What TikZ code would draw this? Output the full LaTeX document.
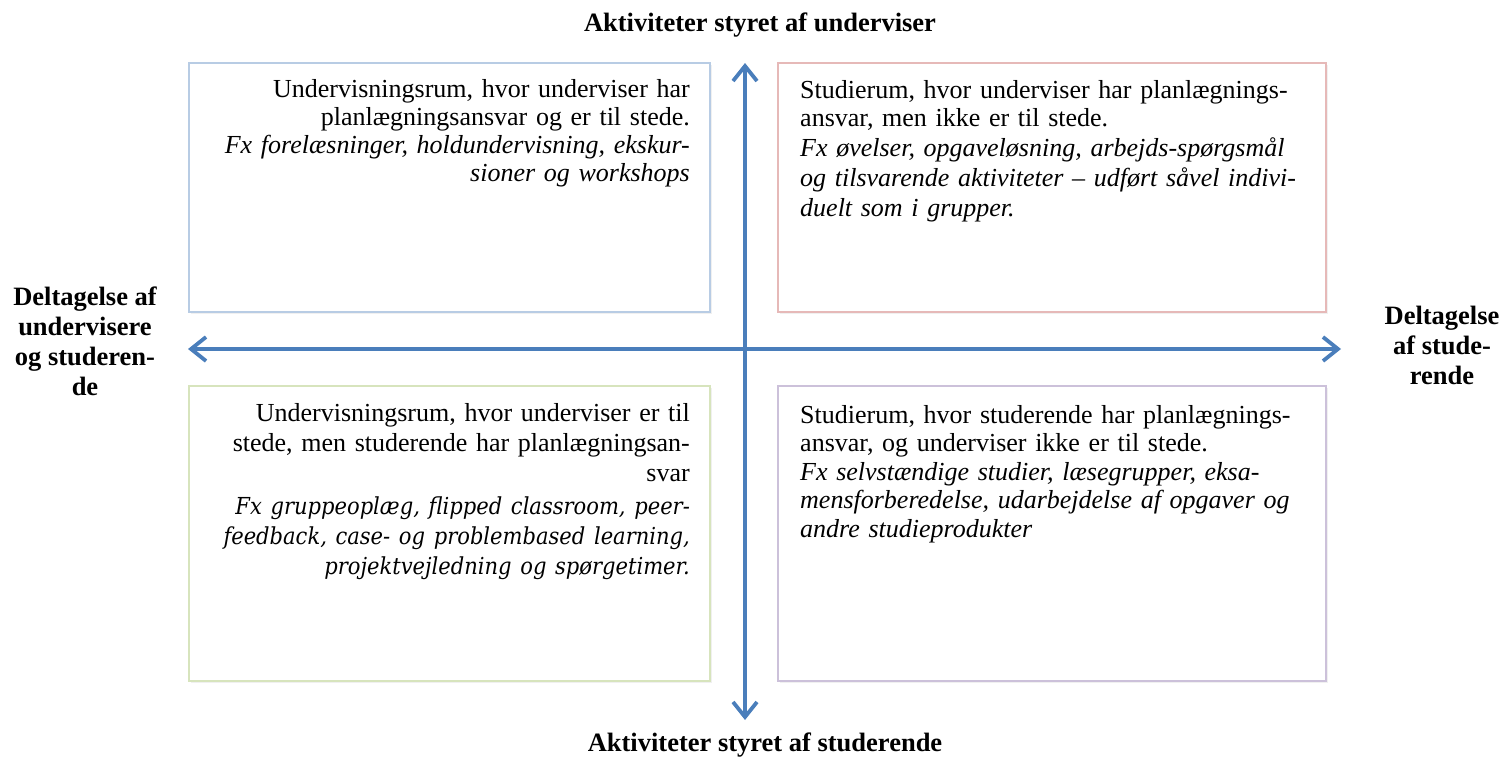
\documentclass[tikz,border=0pt]{standalone}
\usepackage{fontspec}
\setmainfont{Liberation Serif}
\newfontfamily\cambit{DejaVu Serif Condensed}[UprightFont=*, ItalicFont=* Italic]
\usetikzlibrary{arrows.meta,shadows}

\definecolor{axisblue}{RGB}{74,126,187}
\definecolor{edgeblue}{RGB}{184,204,228}
\definecolor{edgered}{RGB}{230,185,184}
\definecolor{edgegreen}{RGB}{215,228,189}
\definecolor{edgeviolet}{RGB}{204,193,218}

\tikzset{
  quadbox/.style={draw=#1, line width=1.2pt, fill=white, inner sep=0pt,
    drop shadow={opacity=0.12, shadow xshift=1.5pt, shadow yshift=-1.5pt}},
  quadtext/.style={inner sep=0pt, text width=540pt, font=\fontsize{26}{28}\selectfont},
  axislabel/.style={font=\fontsize{26.5}{30}\selectfont\bfseries, align=center, inner sep=0pt},
  axis/.style={draw=axisblue, line width=3.8pt,
    {Straight Barb[length=15pt,width=24pt]}-{Straight Barb[length=15pt,width=24pt]}}
}

\begin{document}
\begin{tikzpicture}[x=1pt,y=-1pt]
\useasboundingbox (0,0) rectangle (1501,758);

% the four quadrants
\draw (189,63)  rectangle (710,312) [quadbox=edgeblue];
\draw (778,63)  rectangle (1326,312) [quadbox=edgered];
\draw (189,386) rectangle (710,681) [quadbox=edgegreen];
\draw (778,386) rectangle (1326,681) [quadbox=edgeviolet];

\draw (690,79) node (tl) [quadtext, anchor=north east, align=right]
  {Undervisningsrum, hvor underviser har\\
   planlægningsansvar og er til stede.\\
   \itshape Fx forelæsninger, holdundervisning, ekskur-\\
   sioner og workshops};
\draw (800,80) node (tr) [quadtext, anchor=north west, align=left]
  {Studierum, hvor underviser har planlægnings-\\
   ansvar, men ikke er til stede.\\[2pt]
   \itshape Fx øvelser, opgaveløsning, arbejds-spørgsmål\\[2pt]
   og tilsvarende aktiviteter – udført såvel indivi-\\[2pt]
   duelt som i grupper.};
\draw (690,403) node (bl) [quadtext, anchor=north east, align=right,
    font=\fontsize{26}{30}\selectfont]
  {Undervisningsrum, hvor underviser er til\\
   stede, men studerende har planlægningsan-\\
   svar\\[3pt]
   \cambit\itshape\fontsize{23.4}{30}\selectfont Fx gruppeoplæg, flipped classroom, peer-\\
   feedback, case- og problembased learning,\\
   projektvejledning og spørgetimer.};
\draw (800,405) node (br) [quadtext, anchor=north west, align=left,
    font=\fontsize{26}{28.2}\selectfont]
  {Studierum, hvor studerende har planlægnings-\\
   ansvar, og underviser ikke er til stede.\\[1pt]
   \itshape Fx selvstændige studier, læsegrupper, eksa-\\
   mensforberedelse, udarbejdelse af opgaver og\\
   andre studieprodukter};

% axes
\coordinate (up)    at (745,63);
\coordinate (down)  at (745,720);
\coordinate (left)  at (188,349);
\coordinate (right) at (1341,349);
\draw [axis] (down) -- (up);
\draw [axis] (left) -- (right);

% axis labels
\draw (760,25)  node (north) [axislabel] {Aktiviteter styret af underviser};
\draw (765,745) node (south) [axislabel] {Aktiviteter styret af studerende};
\draw (85,341)  node (west)  [axislabel] {Deltagelse af\\ undervisere\\ og studeren-\\ de};
\draw (1442,345) node (east) [axislabel] {Deltagelse\\ af stude-\\ rende};
\end{tikzpicture}
\end{document}
